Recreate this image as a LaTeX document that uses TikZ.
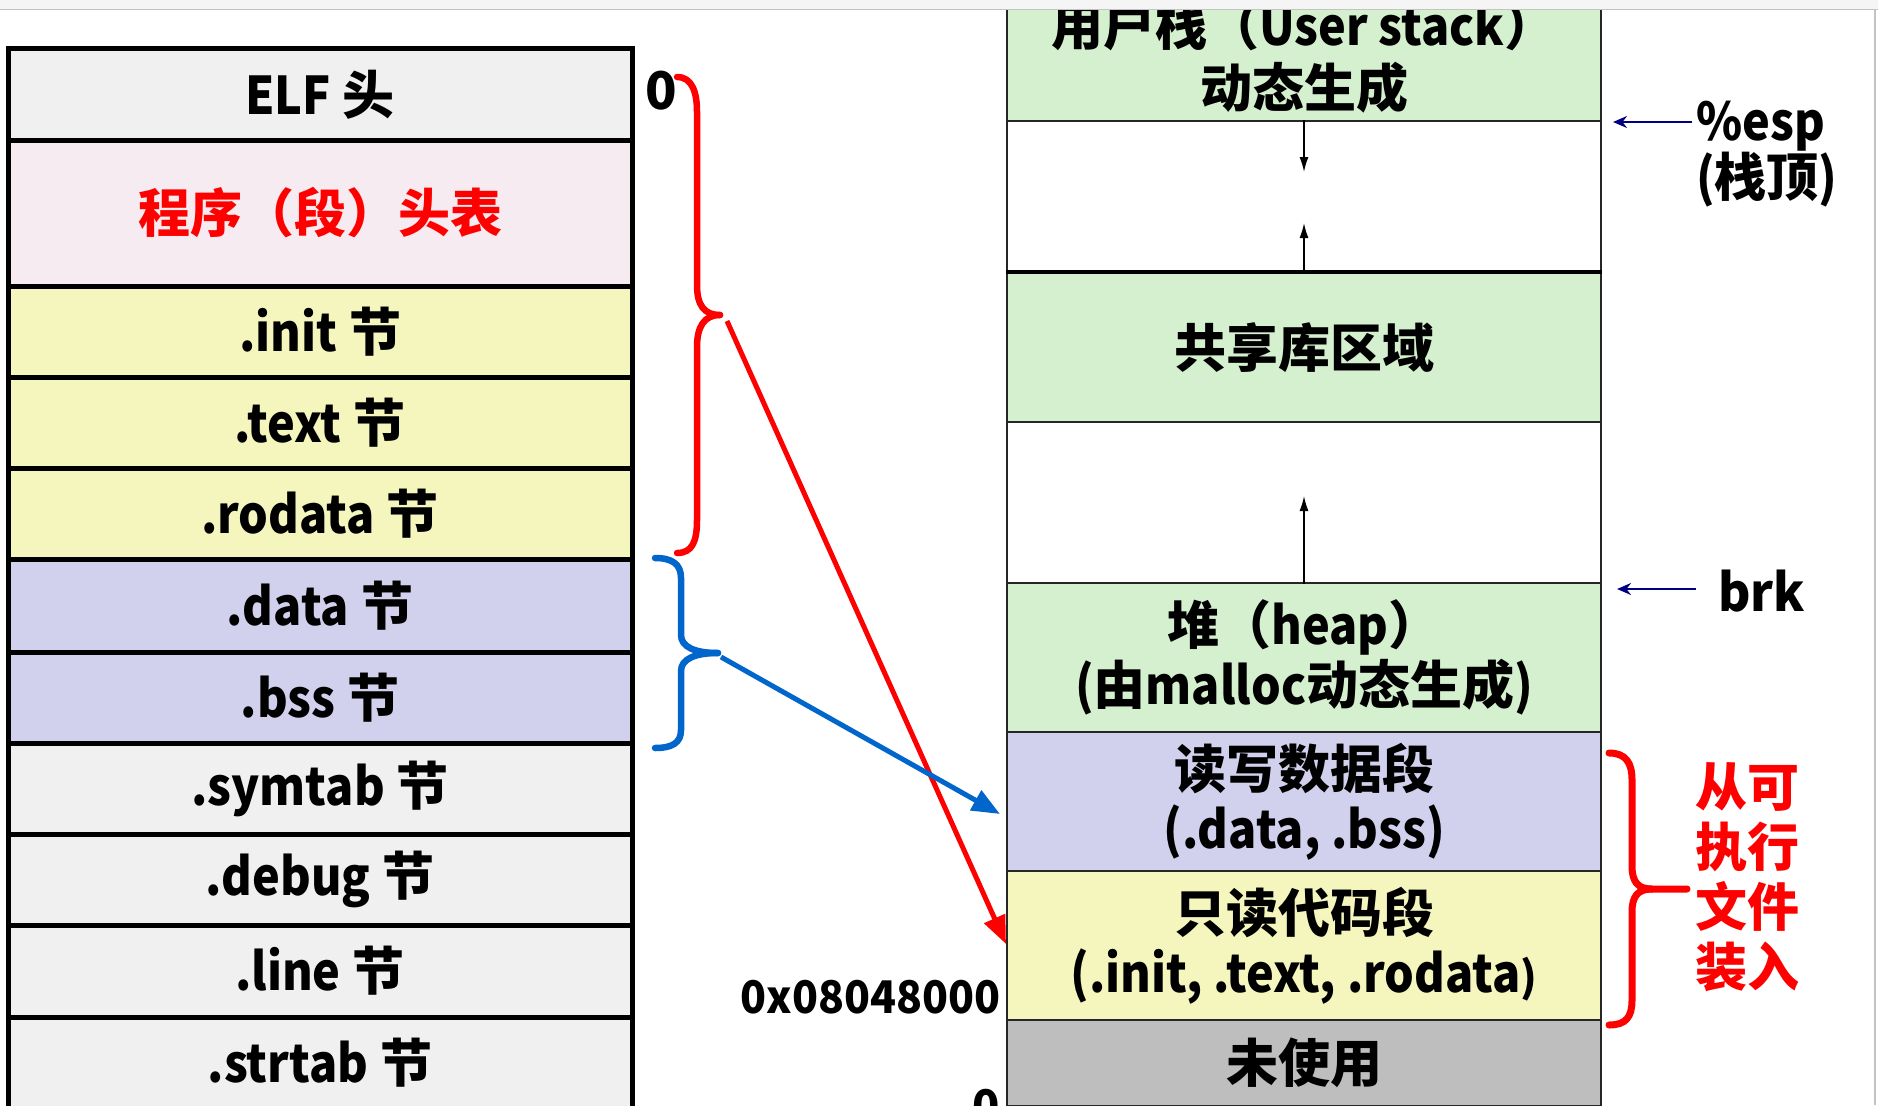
\documentclass[tikz,border=0pt]{standalone}
\usepackage{fontspec}
\usepackage{graphicx}
\setmainfont{Noto Sans CJK SC}
\usetikzlibrary{arrows.meta}
\newcommand{\nx}[1]{\scalebox{0.9}[1]{#1}}
\newcommand{\nxa}[1]{\scalebox{0.95}[1]{#1}}
\definecolor{elfgray}{HTML}{F0F0F0}
\definecolor{phpink}{HTML}{F5EBF0}
\definecolor{secyel}{HTML}{F5F5BE}
\definecolor{seclav}{HTML}{D1D1EE}
\definecolor{rgreen}{HTML}{D5F0CF}
\definecolor{unusedgray}{HTML}{BEBEBE}
\definecolor{bandgray}{HTML}{F5F5F5}
\definecolor{bandline}{HTML}{C3C3C3}
\definecolor{bblue}{HTML}{0066CC}
\definecolor{navyc}{HTML}{000080}
\definecolor{rred}{HTML}{FF0000}
\begin{document}
\begin{tikzpicture}[x=1pt,y=-1pt,
  lrow/.style={draw=black, line width=5pt, minimum width=624pt, inner sep=0pt,
    font=\fontsize{52}{60}\selectfont\bfseries},
  rrow/.style={draw=black!85, line width=2pt, minimum width=594pt, inner sep=0pt,
    align=center, font=\fontsize{52}{60}\selectfont\bfseries},
  rtext/.style={inner sep=0pt, align=center, font=\fontsize{52}{60}\selectfont\bfseries},
  lbl/.style={inner sep=0pt, font=\fontsize{52}{60}\selectfont\bfseries},
  addr/.style={inner sep=0pt, font=\fontsize{45}{52}\selectfont\bfseries},
  thinarrow/.style={line width=1.5pt, -{Latex[length=15pt,width=9pt]}},
  ptrarrow/.style={draw=navyc, line width=2pt, -{Stealth[length=14pt,width=12pt]}},
  bigarrow/.style={line width=5pt, -{Triangle[length=28pt,width=22pt]}},
  bracepath/.style={line width=6.5pt, line cap=round, line join=round}
]
\useasboundingbox (0,0) rectangle (1878,1105);
\clip (0,0) rectangle (1878,1105);
\fill[white] (0,0) rectangle (1878,1105);

% ---------------- left: ELF file ----------------
\node[lrow, fill=elfgray, minimum height=91pt]  (elf)    at (320,94.5)  {\nx{ELF} 头};
\node[lrow, fill=phpink,  minimum height=146pt, text=rred] (phdr) at (320,213) {程序（段）头表};
\node[lrow, fill=secyel,  minimum height=91pt]  (init)   at (320,331.5) {\nx{.init} 节};
\node[lrow, fill=secyel,  minimum height=91pt]  (text)   at (320,422.5) {\nx{.text} 节};
\node[lrow, fill=secyel,  minimum height=91pt]  (rodata) at (320,513.5) {\nx{.rodata} 节};
\node[lrow, fill=seclav,  minimum height=93pt]  (data)   at (320,605.5) {\nx{.data} 节};
\node[lrow, fill=seclav,  minimum height=91pt]  (bss)    at (320,697.5) {\nx{.bss} 节};
\node[lrow, fill=elfgray, minimum height=91pt]  (symtab) at (320,788.5) {\nx{.symtab} 节};
\node[lrow, fill=elfgray, minimum height=91pt]  (debug)  at (320,879.5) {\nx{.debug} 节};
\node[lrow, fill=elfgray, minimum height=92pt]  (line)   at (320,971)   {\nx{.line} 节};
\node[lrow, fill=elfgray, minimum height=91pt]  (strtab) at (320,1062.5){\nx{.strtab} 节};

\node[lbl, anchor=base west] (zeroL) at (645,110) {0};

% ---------------- right: process image ----------------
\node[rrow, fill=rgreen, minimum height=161pt] (ustack) at (1304,40.5) {};
\node[rtext, font=\fontsize{52}{62}\selectfont\bfseries] (ustackt) at (1304,57) {用户栈（\nx{User stack}）\\动态生成};
\node[rrow, fill=white,  minimum height=152pt] (sgap)  at (1304,197) {};
\node[rrow, fill=rgreen, minimum height=149pt] (shlib) at (1304,347.5) {共享库区域};
\node[rrow, fill=white,  minimum height=161pt] (hgap)  at (1304,502.5) {};
\node[rrow, fill=rgreen, minimum height=149pt] (heap)  at (1304,657.5) {堆（\nx{heap}）\\\nx{(}由\nx{malloc}动态生成\nx{)}};
\node[rrow, fill=seclav, minimum height=139pt] (rw)    at (1304,801.5) {读写数据段\\\nx{(.data, .bss)}};
\node[rrow, fill=secyel, minimum height=149pt] (ro)    at (1304,945.5) {只读代码段\\\nx{(.init, .text, .rodata}{\fontsize{42}{50}\selectfont)}};
\node[rrow, fill=unusedgray, minimum height=86pt] (unused) at (1304,1063) {未使用};
\draw[line width=3.5pt] (shlib.north west) -- (shlib.north east);

% growth arrows
\coordinate (sdown) at (1304,172);
\coordinate (sup)   at (1304,223);
\coordinate (hup)   at (1304,496);
\draw[thinarrow] (sgap.north) -- (sdown);
\draw[thinarrow] (sgap.south) -- (sup);
\draw[thinarrow] (hgap.south) -- (hup);

% pointers
\coordinate (espfrom) at (1692,122);
\coordinate (espto)   at (1613,122);
\draw[ptrarrow] (espfrom) -- (espto);
\node[lbl, anchor=base west] (esp)   at (1696,140) {\nx{\%esp}};
\node[lbl, anchor=base west] (espzh) at (1696,196) {\nx{(}栈顶\nx{)}};
\coordinate (brkfrom) at (1696,589);
\coordinate (brkto)   at (1617,589);
\draw[ptrarrow] (brkfrom) -- (brkto);
\node[lbl, anchor=base west] (brk) at (1718,611) {\nxa{brk}};

\node[addr, anchor=base east] (vaddr) at (1001,1013) {\nxa{0x08048000}};
\node[addr, anchor=base east] (zeroR) at (1000,1122) {0};

% ---------------- braces ----------------
\draw[bracepath, draw=rred]
  (677,77) .. controls (692,77) and (697,92) .. (697,112) -- (697,285)
  .. controls (697,305) and (704,315) .. (720,315);
\draw[bracepath, draw=rred]
  (720,315) .. controls (704,315) and (697,327) .. (697,347) -- (697,520)
  .. controls (697,542) and (692,553) .. (677,553);
\coordinate (rtip) at (720,315);

\draw[bracepath, draw=bblue]
  (655,558) .. controls (672,558) and (681,564) .. (681,578) -- (681,635)
  .. controls (681,647) and (695,653) .. (718,653);
\draw[bracepath, draw=bblue]
  (718,653) .. controls (695,653) and (681,659) .. (681,671) -- (681,730)
  .. controls (681,743) and (672,748) .. (655,748);
\coordinate (btip) at (718,653);

\draw[bracepath, draw=rred, line width=7pt]
  (1609,753) .. controls (1626,753) and (1632,763) .. (1632,780) -- (1632,866)
  .. controls (1632,882) and (1638,889) .. (1652,889) -- (1687,889);
\draw[bracepath, draw=rred, line width=7pt]
  (1652,889) .. controls (1638,889) and (1632,896) .. (1632,912) -- (1632,1000)
  .. controls (1632,1017) and (1626,1025) .. (1609,1025);
\node[rtext, text=rred] (loadlbl) at (1747,877) {从可\\执行\\文件\\装入};

% ---------------- mapping arrows ----------------
\coordinate (redfrom)  at (727,321);
\coordinate (redto)    at (1006,944);
\coordinate (bluefrom) at (721,657);
\coordinate (blueto)   at (1000,814);
\draw[bigarrow, draw=rred, fill=rred] (redfrom) -- (redto);
\draw[bigarrow, draw=bblue, fill=bblue] (bluefrom) -- (blueto);

% ---------------- window frame ----------------
\fill[bandgray] (0,0) rectangle (1878,9.5);
\draw[bandline, line width=1.5pt] (0,9.5) -- (1878,9.5);
\draw[bandline, line width=1.5pt] (1875,9.5) -- (1875,1105);
\end{tikzpicture}
\end{document}
